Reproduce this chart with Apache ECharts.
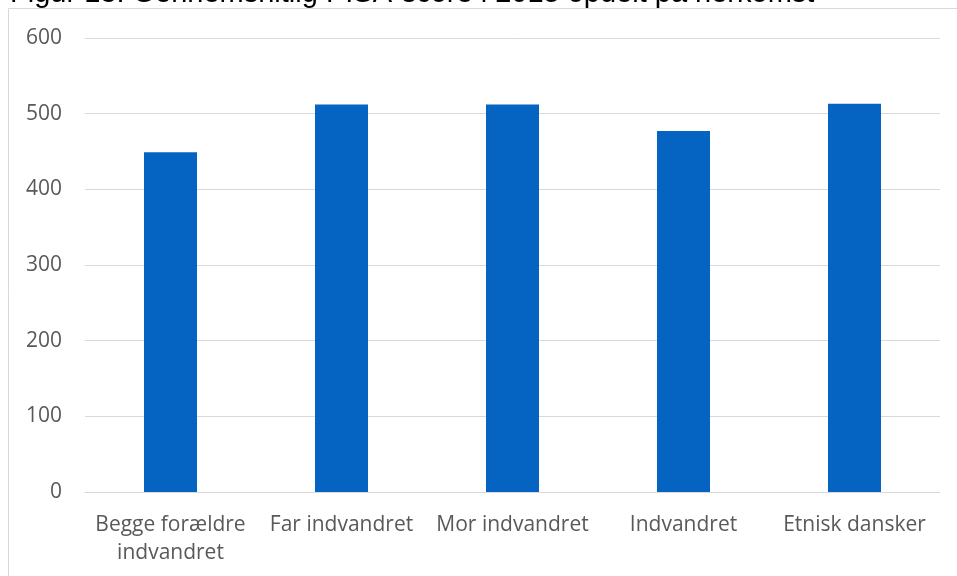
<!DOCTYPE html>
<html>
<head>
<meta charset="utf-8">
<script src="https://cdn.jsdelivr.net/npm/echarts@6/dist/echarts.min.js"></script>
<style>
  html, body { margin: 0; padding: 0; background: #fff; }
  #chart { width: 957px; height: 576px; }
</style>
</head>
<body>
<div id="chart"></div>
<script>
// Average PISA score 2015 by origin
const titleText = 'Figur 13: Gennemsnitlig PISA-score i 2015 opdelt på herkomst';
const categories = ['Begge forældre\nindvandret', 'Far indvandret', 'Mor indvandret', 'Indvandret', 'Etnisk dansker'];
const scores = [449, 512, 512, 477, 513];
const yTicks = { min: 0, max: 600, interval: 100 };

const chart = echarts.init(document.getElementById('chart'), null, { renderer: 'canvas' });

chart.setOption({
  animation: false,
  backgroundColor: '#ffffff',
  graphic: [
    {
      type: 'rect',
      silent: true,
      shape: { x: 8.5, y: 8.5, width: 1200, height: 1200 },
      style: { fill: 'none', stroke: '#d9d9d9', lineWidth: 1 }
    },
    {
      type: 'text',
      silent: true,
      left: 10,
      top: -21,
      style: {
        text: titleText,
        font: '29px "Liberation Sans", Arial, sans-serif',
        fill: '#000000'
      }
    }
  ],
  grid: { left: 85, right: 17, top: 38, bottom: 84, containLabel: false },
  xAxis: {
    type: 'category',
    data: categories,
    axisTick: { show: false },
    axisLine: { show: true, lineStyle: { color: '#d9d9d9', width: 1 } },
    axisLabel: {
      color: '#595959',
      fontFamily: '"Open Sans", sans-serif',
      fontSize: 21,
      lineHeight: 28,
      margin: 19,
      interval: 0
    }
  },
  yAxis: {
    type: 'value',
    min: yTicks.min,
    max: yTicks.max,
    interval: yTicks.interval,
    axisLine: { show: false },
    axisTick: { show: false },
    splitLine: { lineStyle: { color: '#d9d9d9', width: 1 } },
    axisLabel: {
      color: '#595959',
      fontFamily: '"Open Sans", sans-serif',
      fontSize: 21,
      margin: 23
    }
  },
  series: [{
    type: 'bar',
    data: scores,
    barWidth: 53,
    itemStyle: { color: '#0563C1' }
  }]
});
</script>
</body>
</html>
